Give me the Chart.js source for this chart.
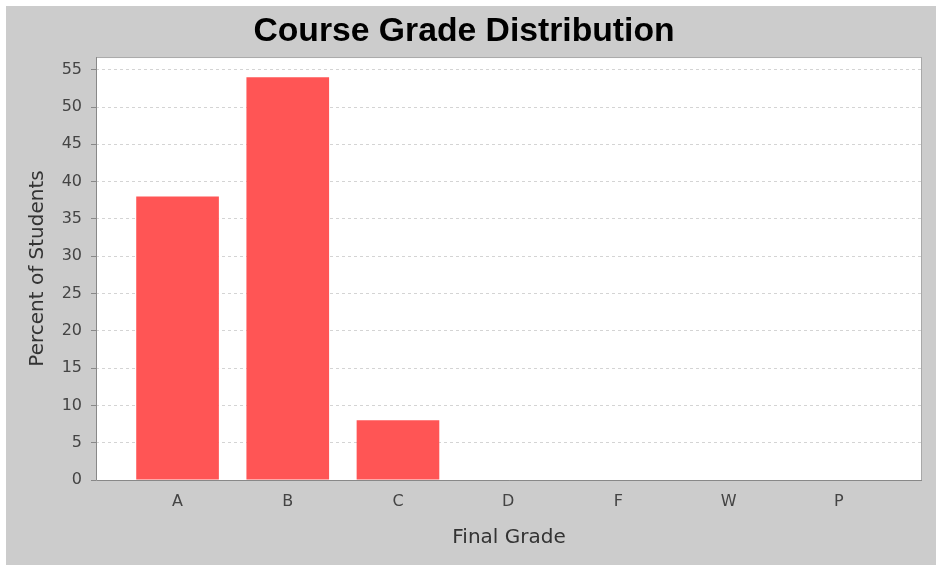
<!DOCTYPE html>
<html>
<head>
  <title>Course Grade Distribution</title>
  <script src="https://cdn.jsdelivr.net/npm/chart.js"></script>
  <style>
    body { margin: 0; padding: 6px 0 0 6px; background: #ffffff; }
    canvas { background: #cccccc; display: block; }
  </style>
</head>
<body>
<canvas id="gradeChart" width="930" height="559"></canvas>

<script>
  // datos del gráfico
  const grades = ['A', 'B', 'C', 'D', 'F', 'W', 'P'];
  const percentStudents = [38, 54, 8, 0, 0, 0, 0];
  const yTicks = [0, 5, 10, 15, 20, 25, 30, 35, 40, 45, 50, 55];

  // fondo blanco del área de trazado con su marco
  const plotBackground = {
    id: 'plotBackground',
    beforeDraw(chart) {
      const { ctx, chartArea: a } = chart;
      ctx.save();
      ctx.fillStyle = '#ffffff';
      ctx.fillRect(a.left, a.top, a.right - a.left, a.bottom - a.top);
      ctx.strokeStyle = '#a8a8a8';
      ctx.lineWidth = 1;
      ctx.strokeRect(a.left + 0.5, a.top + 0.5, a.right - a.left - 1, a.bottom - a.top);
      ctx.restore();
    },
    afterDatasetsDraw(chart) {
      // ejes izquierdo e inferior
      const { ctx, chartArea: a } = chart;
      ctx.save();
      ctx.strokeStyle = '#888888';
      ctx.lineWidth = 1;
      ctx.beginPath();
      ctx.moveTo(a.left + 0.5, a.top);
      ctx.lineTo(a.left + 0.5, a.bottom + 0.5);
      ctx.lineTo(a.right, a.bottom + 0.5);
      ctx.stroke();
      ctx.restore();
    }
  };

  const ctx = document.getElementById('gradeChart').getContext('2d');
  const gradeChart = new Chart(ctx, {
    type: 'bar',
    data: {
      datasets: [{
        label: 'Percent of Students',
        data: percentStudents.map((v, i) => ({ x: i, y: v })),
        backgroundColor: '#ff5555',
        borderWidth: 0,
        categoryPercentage: 1,
        barPercentage: 0.75
      }]
    },
    options: {
      responsive: false,
      animation: false,
      layout: { padding: { top: 0, left: 0, right: 14, bottom: 0 } },
      plugins: {
        legend: { display: false },
        tooltip: { enabled: false },
        title: {
          display: true,
          text: 'Course Grade Distribution',
          color: '#000000',
          font: { family: 'Liberation Sans', size: 33.7, weight: 'bold' },
          padding: { top: 5, bottom: 5.6 }
        }
      },
      scales: {
        x: {
          type: 'linear',
          offset: false,
          min: -0.74,
          max: 6.755,
          grid: { display: false, drawTicks: false },
          border: { display: false },
          afterBuildTicks(scale) {
            scale.ticks = grades.map((g, i) => ({ value: i }));
          },
          afterFit(scale) { scale.height = 85; },
          ticks: {
            color: '#444444',
            font: { family: 'DejaVu Sans', size: 16 },
            padding: 12,
            maxRotation: 0,
            autoSkip: false,
            callback: (v) => grades[v]
          },
          title: {
            display: true,
            text: 'Final Grade',
            color: '#333333',
            font: { family: 'DejaVu Sans', size: 20 },
            padding: { top: 0, bottom: 15 }
          }
        },
        y: {
          min: 0,
          max: 56.7,
          afterBuildTicks(scale) {
            scale.ticks = yTicks.map(v => ({ value: v }));
          },
          afterFit(scale) { scale.width = 90; },
          grid: {
            color: '#d4d4d4',
            tickColor: '#888888',
            tickBorderDash: [],
            tickLength: 5
          },
          border: { display: false, dash: [3, 3] },
          ticks: {
            color: '#444444',
            font: { family: 'DejaVu Sans', size: 16 },
            padding: 9
          },
          title: {
            display: true,
            text: 'Percent of Students',
            color: '#333333',
            font: { family: 'DejaVu Sans', size: 20 },
            padding: { top: 20, bottom: 0 }
          }
        }
      }
    },
    plugins: [plotBackground]
  });
</script>

</body>
</html>
